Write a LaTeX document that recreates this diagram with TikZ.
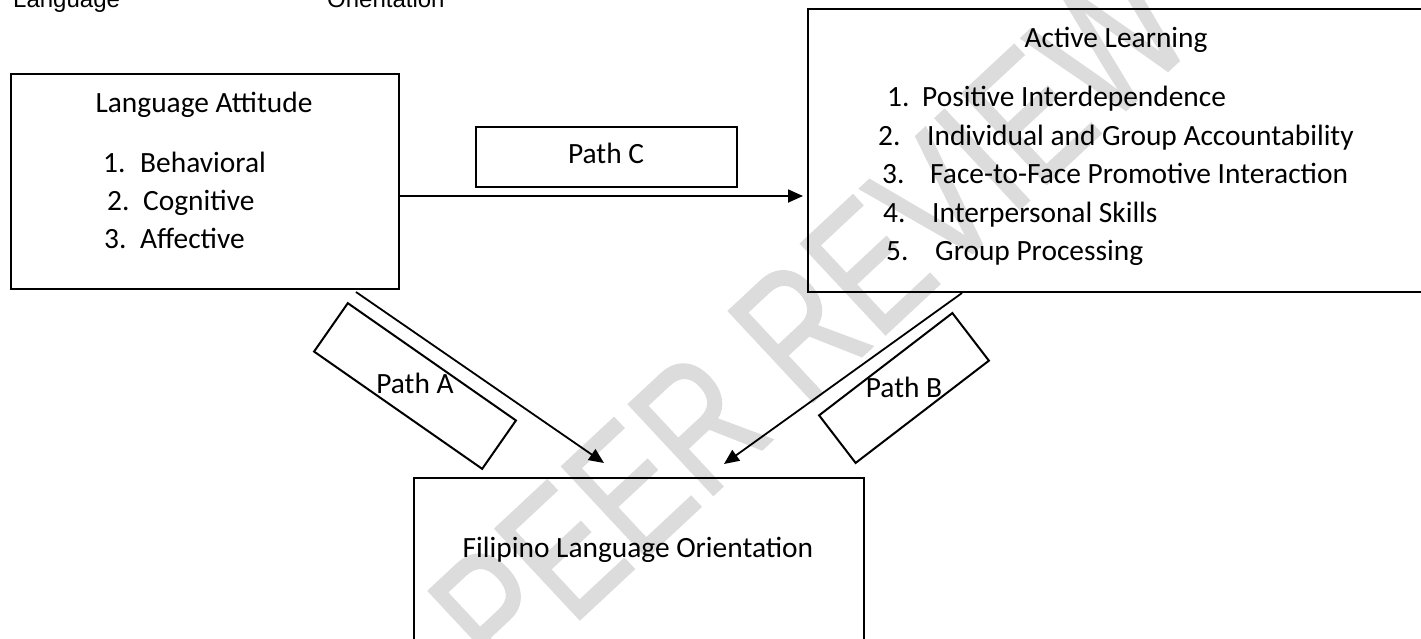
\documentclass[tikz,border=0pt]{standalone}
\usepackage{fontspec}
\setmainfont{Carlito}
\newfontfamily\arialf{Liberation Sans}
\newfontfamily\wmfont[FakeBold=1.2]{Liberation Sans}
\usetikzlibrary{arrows.meta}
\definecolor{wmgray}{RGB}{220,220,220}
\begin{document}
\begin{tikzpicture}[x=1pt,y=1pt,
  box/.style={draw, line width=2pt, inner sep=0pt},
  lbl/.style={inner sep=0pt, font=\fontsize{29.4}{35}\selectfont},
  toplbl/.style={inner sep=0pt, anchor=base west, font=\arialf\fontsize{24}{28}\selectfont},
  arr/.style={line width=1.8pt, -{Triangle[length=15pt,width=13pt]}},
  wm/.style={inner sep=0pt, text=wmgray, font=\wmfont\fontsize{180}{200}\selectfont}]
\useasboundingbox (0,0) rectangle (1421,-638);
\clip (0,0) rectangle (1421,-638);
% watermark
\node[wm, rotate=43, xscale=0.76] (wm) at (810,-320) {PEER REVIEW};
% top cut-off labels
\node[toplbl] (t1) at (13,-7) {Language};
\node[toplbl] (t2) at (327,-7) {Orientation};
% boxes
\node[box, anchor=north west, minimum width=388pt, minimum height=215pt] (la) at (10,-73) {};
\node[box, anchor=north west, minimum width=640pt, minimum height=283pt] (al) at (807,-8) {};
\node[box, anchor=north west, minimum width=450pt, minimum height=200pt] (fl) at (413,-477) {};
\node[box, anchor=north west, minimum width=261pt, minimum height=60pt] (pc) at (475,-126) {};
\node[box, minimum width=205pt, minimum height=59pt, rotate=-34.9] (pa) at (415,-386) {};
\node[box, minimum width=168pt, minimum height=60pt, rotate=37.5] (pb) at (904,-388) {};
% Language Attitude texts
\node[lbl, anchor=base] (la0) at (204,-112) {Language Attitude};
\node[lbl, anchor=base west] (la1n) at (103,-172) {1.};
\node[lbl, anchor=base west] (la1) at (140,-172) {Behavioral};
\node[lbl, anchor=base west] (la2n) at (107,-210) {2.};
\node[lbl, anchor=base west] (la2) at (143,-210) {Cognitive};
\node[lbl, anchor=base west] (la3n) at (104,-248) {3.};
\node[lbl, anchor=base west] (la3) at (140,-248) {Affective};
% Active Learning texts
\node[lbl, anchor=base] (al0) at (1116,-47) {Active Learning};
\node[lbl, anchor=base west] (al1n) at (887,-106) {1.};
\node[lbl, anchor=base west] (al1) at (922,-106) {Positive Interdependence};
\node[lbl, anchor=base west] (al2n) at (878,-145) {2.};
\node[lbl, anchor=base west] (al2) at (927,-145) {Individual and Group Accountability};
\node[lbl, anchor=base west] (al3n) at (882,-183) {3.};
\node[lbl, anchor=base west] (al3) at (930,-183) {Face-to-Face Promotive Interaction};
\node[lbl, anchor=base west] (al4n) at (883,-222) {4.};
\node[lbl, anchor=base west] (al4) at (932,-222) {Interpersonal Skills};
\node[lbl, anchor=base west] (al5n) at (886,-260) {5.};
\node[lbl, anchor=base west] (al5) at (935,-260) {Group Processing};
% other texts
\node[lbl, anchor=base] (flt) at (638,-557) {Filipino Language Orientation};
\node[lbl, anchor=base] (pct) at (606,-163) {Path C};
\node[lbl, anchor=base] (pat) at (415,-393) {Path A};
\node[lbl, anchor=base] (pbt) at (904,-397) {Path B};
% connectors
\coordinate (c1) at (398,-196);
\coordinate (c2) at (803,-196);
\coordinate (a1) at (356,-292);
\coordinate (a2) at (604,-463);
\coordinate (b1) at (962,-293);
\coordinate (b2) at (724,-464);
\draw[arr] (c1) -- (c2);
\draw[arr] (a1) -- (a2);
\draw[arr] (b1) -- (b2);
\end{tikzpicture}
\end{document}
